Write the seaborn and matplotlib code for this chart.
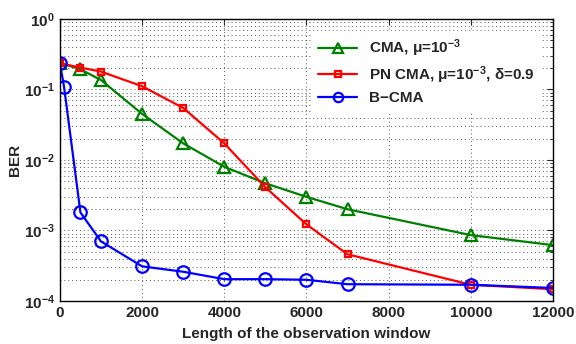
import matplotlib
matplotlib.use("Agg")
import matplotlib.pyplot as plt
import seaborn as sns
import pandas as pd
import numpy as np
from matplotlib.ticker import LogLocator, NullFormatter, FixedLocator

x_cma = [0, 500, 1000, 2000, 3000, 4000, 5000, 6000, 7000, 10000, 12000]
ber_cma = [0.238, 0.193, 0.136, 0.045, 0.0172, 0.0080, 0.00467, 0.0030, 0.0020, 0.00086, 0.00062]
x_pn = [0, 500, 1000, 2000, 3000, 4000, 5000, 6000, 7000, 10000, 12000]
ber_pn = [0.235, 0.204, 0.179, 0.111, 0.0547, 0.0172, 0.0041, 0.00122, 0.00046, 0.00017, 0.000147]
x_b = [0, 100, 500, 1000, 2000, 3000, 4000, 5000, 6000, 7000, 10000, 12000]
ber_b = [0.235, 0.11, 0.0018, 0.00070, 0.00031, 0.00026, 0.000204, 0.000204, 0.0002, 0.000173, 0.00017, 0.000153]

labels = ["CMA, $\\mu$=10$^{-3}$", "PN CMA, $\\mu$=10$^{-3}$, $\\delta$=0.9", "B\u2212CMA"]
colors = ["#008000", "#ff0000", "#0000ff"]
markers = ["^", "s", "o"]

df = pd.concat([
    pd.DataFrame({"x": x_cma, "ber": ber_cma, "series": labels[0]}),
    pd.DataFrame({"x": x_pn, "ber": ber_pn, "series": labels[1]}),
    pd.DataFrame({"x": x_b, "ber": ber_b, "series": labels[2]}),
])

sns.set_style("white")
plt.rcParams['font.family'] = ['Liberation Sans', 'DejaVu Sans']
plt.rcParams['font.weight'] = 'bold'
plt.rcParams['mathtext.fontset'] = 'custom'
plt.rcParams['mathtext.rm'] = 'Liberation Sans:bold'
plt.rcParams['mathtext.it'] = 'Liberation Sans:bold'
plt.rcParams['mathtext.bf'] = 'Liberation Sans:bold'
plt.rcParams['mathtext.default'] = 'bf'

fig = plt.figure(figsize=(5.76, 3.44), dpi=100)
ax = fig.add_axes([0.104, 0.125, 0.856, 0.82])

for lab, c, m in zip(labels, colors, markers):
    sub = df[df.series == lab]
    sns.lineplot(data=sub, x="x", y="ber", ax=ax, color=c, marker=m, markersize=9 if m != "s" else 5,
                 markerfacecolor="none", markeredgecolor=c, markeredgewidth=1.6,
                 linewidth=1.6, label=lab, estimator=None, sort=False)

ax.set_yscale("log")
ax.set_xlim(0, 12000)
ax.set_ylim(1e-4, 1)
ax.xaxis.set_major_locator(FixedLocator([0, 2000, 4000, 6000, 8000, 10000, 12000]))
ax.yaxis.set_major_locator(LogLocator(base=10, numticks=10))
ax.yaxis.set_minor_locator(LogLocator(base=10, subs=np.arange(2, 10), numticks=20))
ax.yaxis.set_minor_formatter(NullFormatter())

ax.grid(True, which="major", axis="both", linestyle=(0, (1, 3)), color="#555555", linewidth=0.7)
ax.grid(True, which="minor", axis="y", linestyle=(0, (1, 3)), color="#555555", linewidth=0.7)

ax.tick_params(axis="both", which="both", direction="in", top=True, right=True, labelsize=11)
ax.tick_params(axis="both", which="major", length=4)
ax.tick_params(axis="y", which="minor", length=2)
for lbl in ax.get_xticklabels() + ax.get_yticklabels():
    lbl.set_fontweight("bold")
for s in ax.spines.values():
    s.set_color("black")
    s.set_linewidth(1.0)

ax.set_xlabel("Length of the observation window", fontsize=11, fontweight="bold", labelpad=5)
ax.set_ylabel("BER", fontsize=11, fontweight="bold", labelpad=1)

leg = ax.legend(loc="upper right", fontsize=11, frameon=True, fancybox=False,
                edgecolor="white", facecolor="white", framealpha=1, handlelength=2.5,
                borderaxespad=0.8, labelspacing=0.35, markerscale=0.75)
for t in leg.get_texts():
    t.set_fontweight("bold")

fig.savefig("out.png", dpi=100)
